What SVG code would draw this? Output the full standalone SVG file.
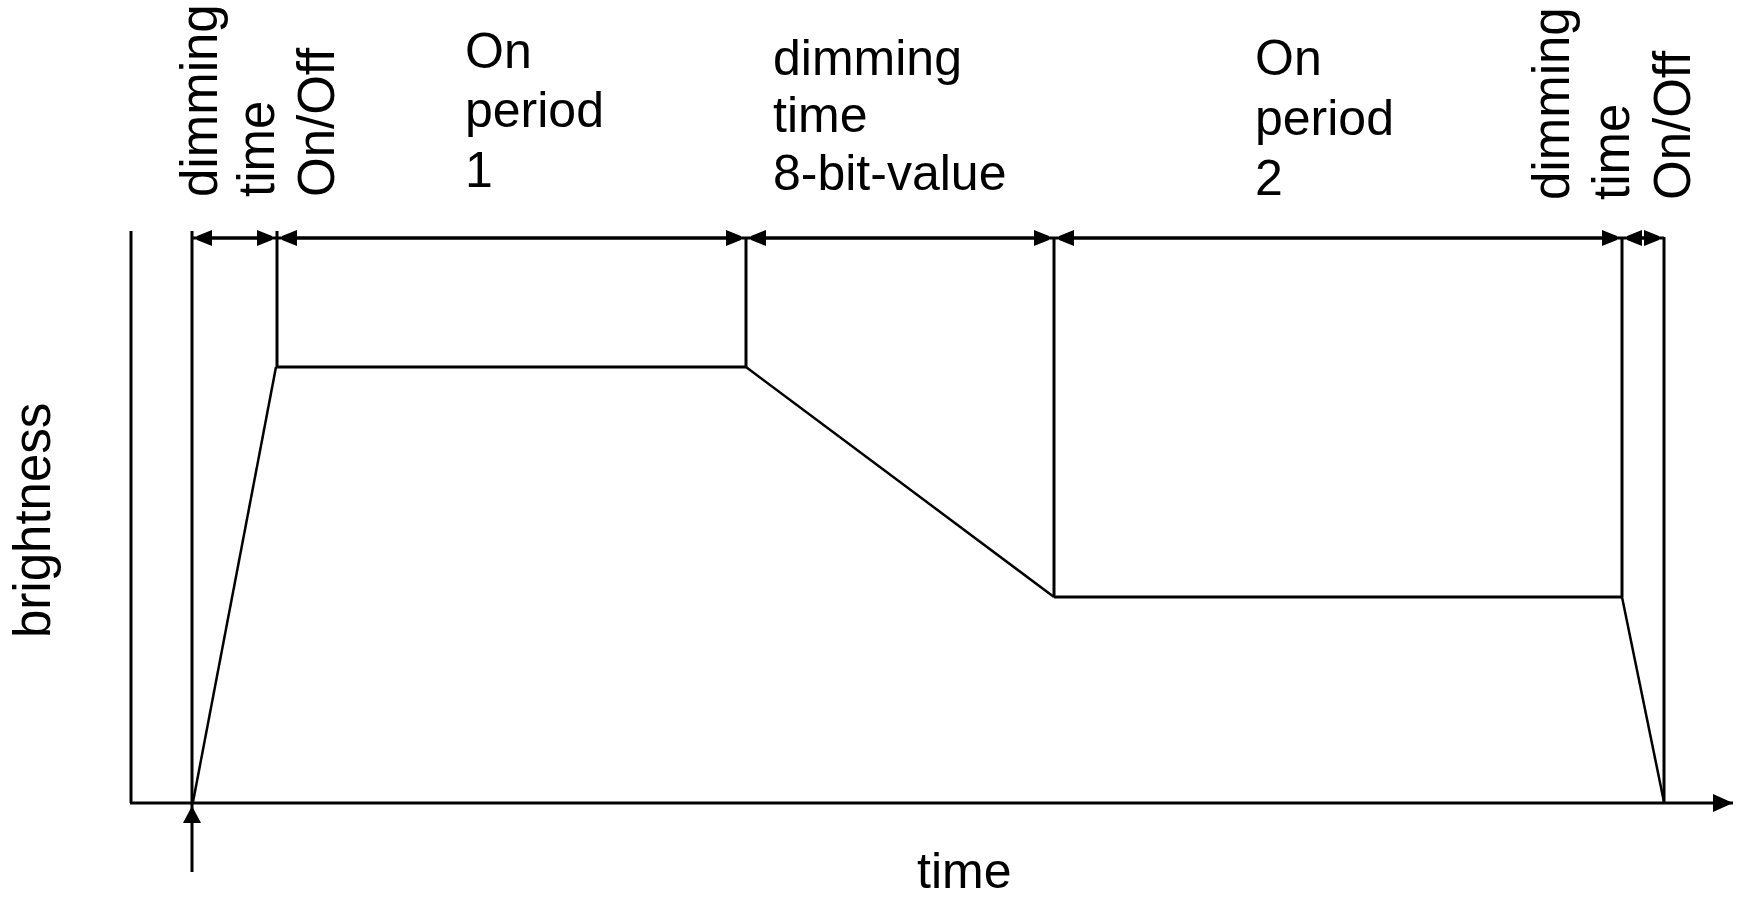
<svg xmlns="http://www.w3.org/2000/svg" width="1737" height="898" viewBox="0 0 1737 898">
<style>
.ln{stroke:#000;stroke-width:3;fill:none}
.sl{stroke:#000;stroke-width:2.5;fill:none}
.dim{stroke:#000;stroke-width:3;fill:none;marker-start:url(#dimArrow);marker-end:url(#dimArrow)}
.ah{fill:#000;stroke:none}
text{font-family:"Liberation Sans",Arial,sans-serif;font-size:50px;fill:#000}
.vt{font-size:51px}
</style>
<defs>
<marker id="dimArrow" markerUnits="userSpaceOnUse" markerWidth="16" markerHeight="18" refX="15" refY="9" orient="auto-start-reverse">
<path d="M0,1 L15,7 L15,11 L0,17 z" fill="#000"/>
</marker>
<marker id="axisArrow" markerUnits="userSpaceOnUse" markerWidth="22" markerHeight="20" refX="20" refY="10" orient="auto">
<path d="M0,1 L20,10 L0,19 z" fill="#000"/>
</marker>
</defs>
<rect width="1737" height="898" fill="#fff"/>
<g id="axes">
<line class="ln" x1="131" y1="231" x2="131" y2="803"/>
<line class="ln" x1="130" y1="803" x2="1733" y2="803" marker-end="url(#axisArrow)"/>
<text id="y-label" transform="translate(50,638) rotate(-90)" style="font-size:51px">brightness</text>
<text id="x-label" x="917" y="888">time</text>
</g>
<g id="connectors">
<line class="ln" x1="192" y1="238" x2="1664" y2="238"/>
<line class="ln" x1="192" y1="231" x2="192" y2="872"/>
<polygon class="ah" points="192,806 183,823 201,823"/>
<line class="ln" x1="277" y1="231" x2="277" y2="367"/>
<line class="ln" x1="746" y1="237" x2="746" y2="367"/>
<line class="ln" x1="1054" y1="237" x2="1054" y2="597"/>
<line class="ln" x1="1622" y1="237" x2="1622" y2="597"/>
<line class="ln" x1="1664" y1="237" x2="1664" y2="803"/>
<line class="dim" x1="197" y1="238" x2="272" y2="238"/>
<line class="dim" x1="282" y1="238" x2="741" y2="238"/>
<line class="dim" x1="751" y1="238" x2="1049" y2="238"/>
<line class="dim" x1="1059" y1="238" x2="1617" y2="238"/>
<line class="dim" x1="1627" y1="238" x2="1659" y2="238"/>
</g>
<g id="brightness-curve">
<polyline class="sl" points="193,802 276,367"/>
<line class="ln" x1="276" y1="367" x2="746" y2="367"/>
<polyline class="sl" points="746,367 1054,597"/>
<line class="ln" x1="1054" y1="597" x2="1622" y2="597"/>
<polyline class="sl" points="1622,597 1664,802"/>
</g>
<g id="label-dimming-onoff-1">
<text class="vt" transform="translate(217,197) rotate(-90)">dimming</text>
<text class="vt" transform="translate(274,197) rotate(-90)">time</text>
<text class="vt" transform="translate(334,197) rotate(-90)">On/Off</text>
</g>
<g id="label-on-period-1">
<text x="465" y="68">On</text>
<text x="465" y="127">period</text>
<text x="465" y="187">1</text>
</g>
<g id="label-dimming-8bit">
<text x="773" y="75">dimming</text>
<text x="773" y="132">time</text>
<text x="773" y="190">8-bit-value</text>
</g>
<g id="label-on-period-2">
<text x="1255" y="75">On</text>
<text x="1255" y="135">period</text>
<text x="1255" y="195">2</text>
</g>
<g id="label-dimming-onoff-2">
<text class="vt" transform="translate(1569,200) rotate(-90)">dimming</text>
<text class="vt" transform="translate(1629,200) rotate(-90)">time</text>
<text class="vt" transform="translate(1690,200) rotate(-90)">On/Off</text>
</g>
</svg>
